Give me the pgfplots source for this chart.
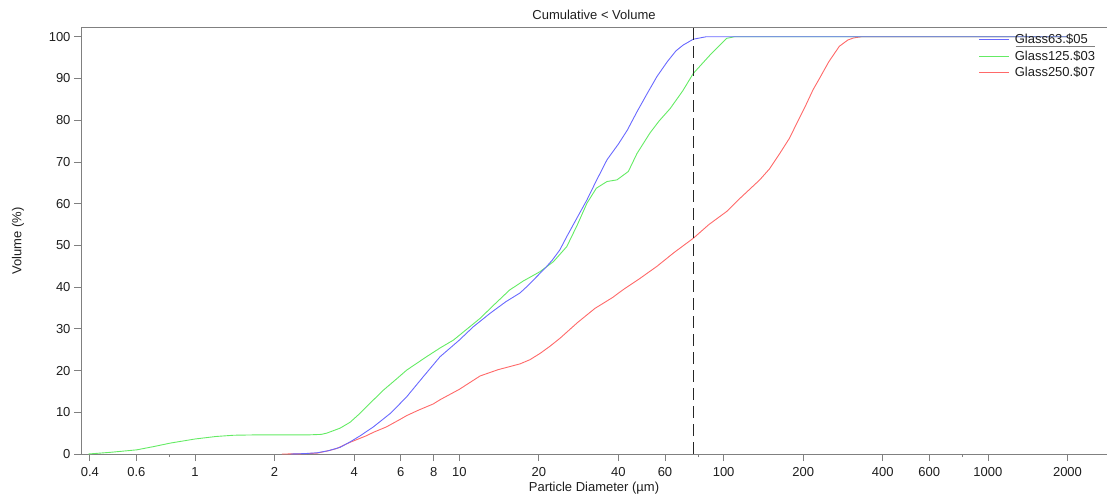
\documentclass[border=0pt]{standalone}
\usepackage{fontspec}
\setmainfont{Liberation Sans}
\usepackage{pgfplots}
\pgfplotsset{compat=1.18}
\definecolor{cblue}{RGB}{105,105,255}
\definecolor{cgreen}{RGB}{100,235,100}
\definecolor{cred}{RGB}{255,105,105}
\definecolor{axgray}{RGB}{128,128,128}
\definecolor{txt}{RGB}{30,30,30}
\begin{document}
\begin{tikzpicture}
\begin{axis}[
  scale only axis,
  width=1026pt, height=426.3pt,
  xmode=log,
  xmin=0.3704, xmax=2822,
  ymin=0, ymax=102.16,
  axis lines=left,
  axis line style={-, axgray, line width=0.8pt},
  tick align=outside,
  major tick length=7pt,
  minor tick length=3pt,
  tick style={axgray, line width=0.8pt},
  xtick={0.4,0.6,1,2,4,6,8,10,20,40,60,100,200,400,600,1000,2000},
  xticklabels={0.4,0.6,1,2,4,6,8,10,20,40,60,100,200,400,600,1000,2000},
  minor xtick={0.8,80,800},
  ytick={0,10,...,100},
  yticklabels={0,10,20,30,40,50,60,70,80,90,100},
  font=\fontsize{13}{15}\selectfont,
  every tick label/.append style={text=txt},
  xticklabel style={yshift=-3pt},
  /pgf/number format/assume math mode=true,
  title={Cumulative < Volume},
  title style={at={(axis description cs:0.5,1)}, anchor=base, yshift=2pt, text=txt},
  xlabel={Particle Diameter (µm)},
  ylabel={Volume (\%)},
  xlabel style={at={(axis description cs:0.5,-0.0798)}, anchor=center, text=txt},
  ylabel style={at={(axis description cs:-0.0614,0.5)}, anchor=center, text=txt},
  legend style={draw=none, fill=none, at={(axis description cs:0.872,0.995)}, anchor=north west,
    font=\fontsize{13}{15}\selectfont, text=txt, row sep=1.5pt,
    nodes={inner xsep=5pt}},
  legend cell align=left,
  legend image code/.code={\draw[#1] (0pt,0pt) -- (30pt,0pt);},
  reverse legend,
  clip=true,
]
\addplot[cred, line width=0.9pt] coordinates {
(2.13,0) (2.5,0.05) (2.89,0.2) (3.2,0.8) (3.43,1.3) (3.86,2.8) (4.46,4.4) (4.73,5.2) (5.3,6.5) (5.97,8.3) (6.32,9.2) (7.0,10.5) (7.97,12.0) (8.45,13.0) (10,15.5) (11.98,18.7) (14,20.2) (16.97,21.6) (18.5,22.6) (20.2,24.1) (22,25.8) (24,27.7) (28,31.5) (32.6,34.9) (38,37.5) (41.5,39.3) (48.3,42.1) (56,45) (65,48.3) (76.8,51.7) (88,55) (102.6,58.1) (115,61.2) (137,65.7) (149,68.3) (163,72) (177.6,75.7) (190,79.5) (205,83.7) (218,87.3) (231,90.1) (250,94) (274,97.7) (295,99.2) (310,99.7) (333,100) (2000,100)
};
\addlegendentry{Glass250.\$07}
\addplot[cgreen, line width=0.9pt] coordinates {
(0.395,0) (0.477,0.4) (0.602,1.0) (0.70,1.8) (0.804,2.6) (1.0,3.6) (1.2,4.2) (1.4,4.5) (1.76,4.6) (2.2,4.6) (2.72,4.6) (3.0,4.7) (3.15,5.0) (3.54,6.2) (3.86,7.6) (4.21,9.75) (4.6,12.2) (5.16,15.3) (5.79,18.0) (6.32,20.1) (7.51,23.3) (8.5,25.5) (9.50,27.3) (11.98,32.5) (13.5,35.7) (15.5,39.3) (17.5,41.5) (20.2,43.7) (22.7,46.1) (25.5,49.7) (28,55) (30.4,60.1) (33,63.7) (36.2,65.3) (39.5,65.7) (43.6,67.7) (47,72) (52.6,76.9) (57,79.8) (62.8,82.8) (70,87) (76.8,91.2) (88.8,95.6) (96.9,98.0) (102.6,99.6) (110,100) (2000,100)
};
\addlegendentry{Glass125.\$03}
\addplot[cblue, line width=0.9pt] coordinates {
(2.3,0) (2.6,0.1) (2.9,0.3) (3.2,0.8) (3.54,1.6) (3.86,2.9) (4.2,4.3) (4.73,6.5) (5.5,9.8) (6.32,13.7) (7.3,18.5) (8.45,23.3) (10,27.3) (11.3,30.5) (13.06,33.7) (15,36.5) (16.97,38.6) (18,40.1) (20.2,43.3) (21.1,44.5) (22.5,46.5) (24,48.9) (25.5,52.1) (28,56.8) (30.4,60.9) (33,65.5) (36.2,70.5) (40,74.3) (43.2,77.6) (47,82) (51.4,86.4) (56,90.5) (61.2,94.0) (66,96.6) (70.3,98.0) (76.8,99.4) (86,100) (2000,100)
};
\addlegendentry{Glass63.\$05}
\addplot[black!85, line width=0.8pt, dash pattern=on 12pt off 6pt, forget plot] coordinates {(77,0) (77,102.16)};
\draw[axgray, line width=0.8pt] (rel axis cs:0,1) -- (rel axis cs:1,1);
\draw[axgray, line width=0.8pt] (rel axis cs:0.911,0.957) -- (rel axis cs:0.988,0.957);
\end{axis}
\pgfresetboundingbox
\path ([shift={(-81pt,-44pt)}]current axis.south west) rectangle ([shift={(0pt,27.7pt)}]current axis.north east);
\end{tikzpicture}
\end{document}
